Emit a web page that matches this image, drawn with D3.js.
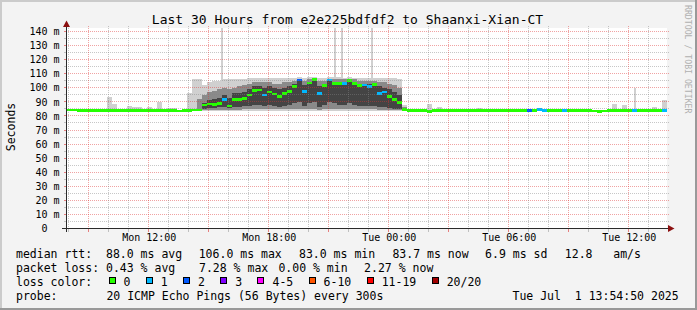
<!DOCTYPE html>
<html><head><meta charset="utf-8">
<script src="https://cdn.jsdelivr.net/npm/d3@7"></script>
<style>
html,body{margin:0;padding:0;background:#f3f3f3;}
svg{display:block;font-family:"DejaVu Sans Mono",monospace;}
</style></head><body>
<svg id="c" width="697" height="310"></svg>
<script>
// ---------------- DATA ----------------
const title = "Last 30 Hours from e2e225bdfdf2 to Shaanxi-Xian-CT";
const startTime = "2025-06-30T07:54:50";
const endTime = "2025-07-01T13:54:50";
const stepMinutes = 15;
const yTickValues = [0,10,20,30,40,50,60,70,80,90,100,110,120,130,140];

// median rtt (ms), one value per 15-minute step
const median = [
 84.1,84.1,84.0,84.0,83.7,83.8,83.7,83.8,84.0,84.0,
 84.0,84.0,83.9,84.0,84.0,84.0,84.0,83.7,84.0,84.0,
 84.0,84.0,83.6,83.9,84.0,84.1,84.2,87.8,88.6,88.3,
 88.9,91.8,87.0,91.5,91.8,92.5,94.9,98.0,98.5,95.0,
 97.0,95.5,93.7,96.0,97.5,101.0,105.5,97.5,103.5,106.0,
 96.0,101.5,105.5,103.0,103.0,103.0,105.0,103.0,101.5,102.0,
 101.0,102.5,96.0,97.0,94.0,91.8,89.5,84.5,84.0,84.0,
 84.0,84.0,83.3,84.0,84.0,84.0,84.0,84.0,84.0,84.0,
 84.0,84.0,84.0,84.0,84.0,84.0,84.0,84.0,84.0,84.0,
 84.0,84.0,84.0,84.0,84.5,84.0,84.0,84.0,84.0,84.0,
 84.0,84.0,84.0,84.0,84.0,83.4,83.3,83.5,84.0,84.0,
 84.0,84.0,84.0,84.0,84.0,84.0,84.0,84.0,84.0,84.0
];
// lost pings (of 20) per step
const loss = [
 0,0,0,0,0,0,0,0,0,0, 0,0,0,0,0,0,0,0,0,0,
 0,0,0,0,0,0,0,0,0,0, 0,1,0,0,0,0,0,0,0,1,
 0,0,0,0,0,0,2,1,0,0, 1,0,1,0,0,1,0,0,0,1,
 1,0,1,1,0,0,0,0,0,0, 0,0,0,0,0,0,0,0,0,0,
 0,0,0,0,0,0,0,0,0,0, 0,0,2,0,1,1,0,0,0,1,
 0,0,0,0,0,0,0,0,0,0, 0,0,0,1,0,0,0,0,0,1
];
// smoke: outer envelope (min..max of pings)
const smokeOuterHi = [
 null,null,null,null,null,null,null,null,93.5,88.5,
 null,null,87,86.5,86,null,86,null,90,null,
 85.5,85.5,null,null,96,106,106,102,104,105,
 105,106,106,106,106,106,107,107,107,107,
 107,107,107,107,107,107,108,107,108,108,
 107,107,108,108,108,107,108,107,107,107,
 107,107,107,107,107,107,106,88,null,null,
 null,null,88.5,null,86.5,null,null,null,null,null,
 null,null,85.5,null,null,null,null,null,null,null,
 null,null,null,null,null,null,null,null,null,null,
 null,null,null,null,null,null,null,null,null,88.5,
 null,87.5,null,null,null,null,null,86,null,91
];
const smokeOuterLo = [
 null,null,null,null,null,null,null,null,83.8,83.8,
 null,null,83.8,83.8,83.8,null,83.8,null,83.8,null,
 83.8,83.8,null,null,83.8,83.5,83.5,83.5,83.5,83.5,
 83.5,83.5,83.5,83.5,83.5,83.5,83.5,83.5,83.5,83.5,
 83.5,83.5,83.5,83.5,83.5,83.5,83.5,83.5,83.5,83.5,
 83.5,83.5,83.5,83.5,83.5,83.5,83.5,83.5,83.5,83.5,
 83.5,83.5,83.5,83.5,83.5,83.5,83.5,83.5,null,null,
 null,null,83.8,null,83.8,null,null,null,null,null,
 null,null,83.8,null,null,null,null,null,null,null,
 null,null,null,null,null,null,null,null,null,null,
 null,null,null,null,null,null,null,null,null,83.8,
 null,83.8,null,null,null,null,null,83.8,null,83.8
];
// smoke: middle band
const smokeMidHi = [
 null,null,null,null,null,null,null,null,null,null,
 null,null,null,null,null,null,null,null,null,null,
 null,null,null,null,null,null,92,95,97,98,
 99,100,99,100,101,102,103,104,104,104,
 104,103,103,104,104,105,106,105,106,106.5,
 105,105,106.5,106,106,106,106.5,106,105,105,
 105,105,104,104,103,102,100,86,null,null,
 null,null,null,null,null,null,null,null,null,null,
 null,null,null,null,null,null,null,null,null,null,
 null,null,null,null,null,null,null,null,null,null,
 null,null,null,null,null,null,null,null,null,null,
 null,null,null,null,null,null,null,null,null,null
];
const smokeMidLo = [
 null,null,null,null,null,null,null,null,null,null,
 null,null,null,null,null,null,null,null,null,null,
 null,null,null,null,null,null,84,84,84,84,
 84,84,84,84,84,85,85,85,85,85,
 85,85,85,85,85,85,85,85,85,85,
 84.5,85,85,85,85,85,85,85,85,85,
 85,85,84.5,84.5,84.5,84.5,84.5,84,null,null,
 null,null,null,null,null,null,null,null,null,null,
 null,null,null,null,null,null,null,null,null,null,
 null,null,null,null,null,null,null,null,null,null,
 null,null,null,null,null,null,null,null,null,null,
 null,null,null,null,null,null,null,null,null,null
];
// smoke: inner (dark) band
const smokeInHi = [
 null,null,null,null,null,null,null,null,null,null,
 null,null,null,null,null,null,null,null,null,null,
 null,null,null,null,null,null,null,89,91,92,
 93,95,93,96,96,97,99,101,101,100,
 101,100,99,100,101,103,105,102,104,105,
 101,103,105,104,104,104,105,104,103,103,
 103,103,101,100,99,97,95,null,null,null,
 null,null,null,null,null,null,null,null,null,null,
 null,null,null,null,null,null,null,null,null,null,
 null,null,null,null,null,null,null,null,null,null,
 null,null,null,null,null,null,null,null,null,null,
 null,null,null,null,null,null,null,null,null,null
];
const smokeInLo = [
 null,null,null,null,null,null,null,null,null,null,
 null,null,null,null,null,null,null,null,null,null,
 null,null,null,null,null,null,null,85,85.5,85.5,
 86,86,85.5,86,86,87,87,88,88,87,
 88,87,86,87,88,89,90,87,89,90,
 86,88,90,89,88,88,89,88,87,87,
 87,87,86,86,85.5,85,85,null,null,null,
 null,null,null,null,null,null,null,null,null,null,
 null,null,null,null,null,null,null,null,null,null,
 null,null,null,null,null,null,null,null,null,null,
 null,null,null,null,null,null,null,null,null,null,
 null,null,null,null,null,null,null,null,null,null
];
// single-ping spikes (max rtt)
const spikeTimes = ["2025-06-30T15:37","2025-06-30T21:16","2025-06-30T21:37","2025-06-30T23:08","2025-07-01T12:16"];
const spikeValues = [150,150,150,150,99.5];

const lossLabels = ["0","1","2","3","4-5","6-10","11-19","20/20"];
const lossColors = ["#26ff00","#00b8ff","#0059ff","#7e00ff","#ff00ff","#ff5500","#ff0000","#a10000"];

const legendRtt = [["median rtt:  88.0 ms avg",16],["106.0 ms max",198.7],["83.0 ms min",299],["83.7 ms now",392.4],["6.9 ms sd",485.1],["12.8   am/s",564.8]];
const legendLoss = [["packet loss: 0.43 % avg",16],["7.28 % max",199],["0.00 % min",278.4],["2.27 % now",364.1]];
const probeText = "20 ICMP Echo Pings (56 Bytes) every 300s";
const dateText = "Tue Jul  1 13:54:50 2025";

// ---------------- CHART ----------------
const W = 697, H = 310;
const svg = d3.select("#c");
const nb = s => s.replace(/ /g, "\u00a0");
const parse = d3.timeParse("%Y-%m-%dT%H:%M:%S");
const parseM = d3.timeParse("%Y-%m-%dT%H:%M");
const t0 = parse(startTime), t1 = parse(endTime);
const X0 = 67, X1 = 667, Y0 = 228.5, YT = 28;
const x = d3.scaleTime().domain([t0, t1]).range([X0, X1]);
const y = d3.scaleLinear().domain([0, 140]).range([Y0, 31.5]);
const times = median.map((_, i) => d3.timeMinute.offset(t0, i * stepMinutes));
const tNext = i => d3.timeMinute.offset(t0, (i + 1) * stepMinutes);

const gridMinor = "rgba(130,130,130,0.45)", gridMajor = "rgba(222,50,50,0.45)", tickMajor = "rgba(222,50,50,0.6)";
const defs = svg.append("defs");
function dotPattern(id, w, h, color) {
  const p = defs.append("pattern").attr("id", id).attr("patternUnits", "userSpaceOnUse")
    .attr("x", 0).attr("y", 0).attr("width", w).attr("height", h);
  p.append("rect").attr("x", 0).attr("y", 0).attr("width", 1).attr("height", 1).attr("fill", color);
}
dotPattern("hMinor", 2, 1, gridMinor);
dotPattern("hMajor", 2, 1, gridMajor);
dotPattern("vMinor", 1, 2, gridMinor);
dotPattern("vMajor", 1, 2, gridMajor);

svg.append("rect").attr("width", W).attr("height", H).attr("fill", "#f3f3f3");
svg.append("rect").attr("x", 0).attr("y", 0).attr("width", W).attr("height", 2).attr("fill", "#cbcbcb");
svg.append("rect").attr("x", 0).attr("y", 0).attr("width", 2).attr("height", H).attr("fill", "#cbcbcb");
svg.append("rect").attr("x", 0).attr("y", H - 2).attr("width", W).attr("height", 2).attr("fill", "#999");
svg.append("rect").attr("x", W - 2).attr("y", 0).attr("width", 2).attr("height", H).attr("fill", "#999");

svg.append("rect").attr("x", X0).attr("y", YT).attr("width", X1 - X0).attr("height", Y0 - YT).attr("fill", "#fff");

defs.append("clipPath").attr("id", "plot").append("rect")
  .attr("x", X0).attr("y", YT).attr("width", X1 - X0).attr("height", Y0 - YT);
const g = svg.append("g").attr("clip-path", "url(#plot)");

// spikes
const spikeT = spikeTimes.map(parseM);
g.selectAll(null).data(spikeT.map((t, k) => k)).join("rect")
  .attr("x", k => x(spikeT[k])).attr("width", 2)
  .attr("y", k => y(spikeValues[k])).attr("height", k => y(84) - y(spikeValues[k]))
  .attr("fill", "#d0d0d0").attr("shape-rendering", "crispEdges");

function band(lo, hi, color) {
  const idx = d3.range(median.length).filter(i => hi[i] != null && lo[i] != null);
  g.selectAll(null).data(idx).join("rect")
    .attr("x", i => x(times[i])).attr("width", i => x(tNext(i)) - x(times[i]))
    .attr("y", i => y(hi[i])).attr("height", i => y(lo[i]) - y(hi[i]))
    .attr("fill", color).attr("shape-rendering", "crispEdges");
}
band(smokeOuterLo, smokeOuterHi, "#d0d0d0");
band(smokeMidLo, smokeMidHi, "#8a8a8a");
band(smokeInLo, smokeInHi, "#444444");

function lossIdx(l) { if (l <= 3) return l; if (l <= 5) return 4; if (l <= 10) return 5; if (l <= 19) return 6; return 7; }
g.selectAll(null).data(d3.range(median.length)).join("rect")
  .attr("x", i => x(times[i])).attr("width", i => x(tNext(i)) - x(times[i]))
  .attr("y", i => y(median[i]) - 1.3).attr("height", 2.6)
  .attr("fill", i => lossColors[lossIdx(loss[i])]).attr("shape-rendering", "crispEdges");

// grid (dotted, drawn on top)
const gg = svg.append("g").attr("shape-rendering", "crispEdges");
const pxi = v => Math.round(v - 0.5);
d3.range(5, 141, 5).forEach(v => {
  const yy = pxi(y(v)), major = v % 10 === 0;
  gg.append("rect").attr("x", X0 - 2).attr("y", yy).attr("width", X1 - X0 + 4).attr("height", 1)
    .attr("fill", major ? "url(#hMajor)" : "url(#hMinor)");
  gg.append("rect").attr("x", X0 - 3).attr("y", yy).attr("width", 2).attr("height", 1)
    .attr("fill", major ? tickMajor : gridMinor);
});
x.ticks(d3.timeHour.every(1)).forEach(t => {
  const xx = pxi(x(t)), major = t.getHours() % 3 === 0;
  gg.append("rect").attr("x", xx).attr("y", YT - 2).attr("width", 1).attr("height", Y0 - 0.5 - YT + 2)
    .attr("fill", major ? "url(#vMajor)" : "url(#vMinor)");
  gg.append("rect").attr("x", xx).attr("y", Y0 + 0.5).attr("width", 1).attr("height", 2.5)
    .attr("fill", major ? tickMajor : gridMinor);
});

// axes lines
svg.append("line").attr("x1", 62).attr("x2", 668.5).attr("y1", Y0).attr("y2", Y0).attr("stroke", "#2a2a2a");
svg.append("line").attr("x1", X0 - 0.5).attr("x2", X0 - 0.5).attr("y1", 232).attr("y2", 26).attr("stroke", "#2a2a2a");
svg.append("path").attr("d", `M668,${Y0 - 3.5}L674.5,${Y0}L668,${Y0 + 3.5}Z`).attr("fill", "#8c1010");
svg.append("path").attr("d", `M${X0 - 4},27L${X0 - 0.5},20.5L${X0 + 3},27Z`).attr("fill", "#8c1010");

// axis labels via d3 axes
const yAx = svg.append("g").attr("transform", `translate(${X0 - 0.5},0)`)
  .call(d3.axisLeft(y).tickValues(yTickValues).tickSize(0).tickPadding(7)
    .tickFormat(v => nb(v === 0 ? "0  " : v + " m")));
yAx.select(".domain").remove();
yAx.selectAll("text").attr("font-family", "DejaVu Sans Mono").attr("font-size", 10).attr("fill", "#000");

const xAx = svg.append("g").attr("transform", `translate(0,${Y0})`)
  .call(d3.axisBottom(x).ticks(d3.timeHour.every(6)).tickSize(0).tickPadding(5.4)
    .tickFormat(d3.timeFormat("%a %H:%M")));
xAx.select(".domain").remove();
xAx.selectAll("text").attr("font-family", "DejaVu Sans Mono").attr("font-size", 10).attr("fill", "#000");

// title & side texts
svg.append("text").attr("x", 347.5).attr("y", 24).attr("text-anchor", "middle")
  .attr("font-size", 13).attr("fill", "#000").text(title);
svg.append("text").attr("transform", "translate(15,127) rotate(-90)").attr("text-anchor", "middle")
  .attr("font-size", 11.5).attr("fill", "#000").text("Seconds");
svg.append("text").attr("transform", "translate(684.5,5) rotate(90)")
  .attr("font-size", 8.2).attr("fill", "#b0b0b0").text(nb("RRDTOOL / TOBI OETIKER"));

// legend
const lg = svg.append("g").attr("font-size", 11.5).attr("fill", "#000");
legendRtt.forEach(([s, xx]) => lg.append("text").attr("x", xx).attr("y", 258).text(nb(s)));
legendLoss.forEach(([s, xx]) => lg.append("text").attr("x", xx).attr("y", 272).text(nb(s)));
lg.append("text").attr("x", 16).attr("y", 286).text(nb("loss color:"));
let cx = 108.5;
const cw = 6.94;
lossLabels.forEach((lab, k) => {
  lg.append("rect").attr("x", Math.round(cx) + 0.5).attr("y", 277.5).attr("width", 6).attr("height", 6)
    .attr("fill", lossColors[k]).attr("stroke", "#000").attr("stroke-width", 1).attr("shape-rendering", "crispEdges");
  lg.append("text").attr("x", cx + 15).attr("y", 286).text(lab);
  cx = cx + 15 + lab.length * cw + 15.3;
});
lg.append("text").attr("x", 16).attr("y", 300).text(nb("probe:"));
lg.append("text").attr("x", 106.4).attr("y", 300).text(nb(probeText));
lg.append("text").attr("x", 512.5).attr("y", 300).text(nb(dateText));
</script></body></html>
